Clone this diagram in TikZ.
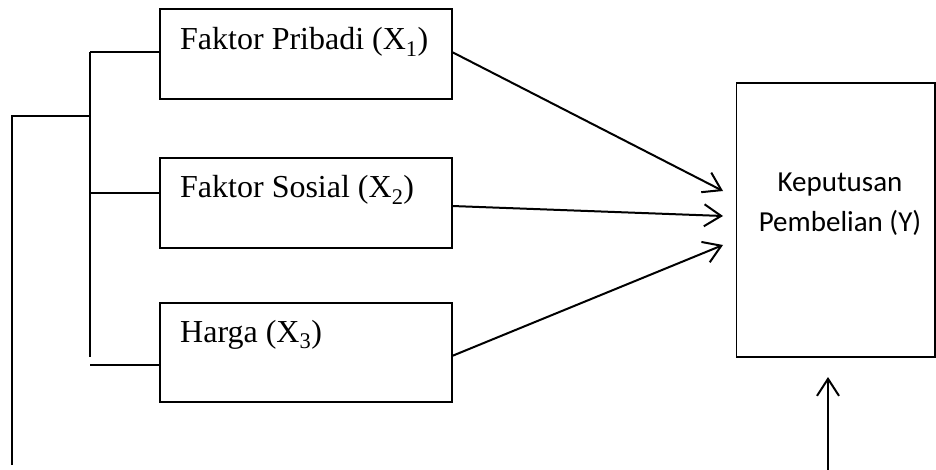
\documentclass[tikz,border=0pt]{standalone}
\usepackage{fontspec}
\setmainfont{Liberation Serif}
\newfontfamily\calfont{Carlito}
\usetikzlibrary{arrows.meta}
\begin{document}
\begin{tikzpicture}[x=1pt,y=-1pt,
  box/.style={draw,line width=1.3pt,inner sep=0pt,minimum width=292pt},
  lab/.style={anchor=base west,inner sep=0pt,font=\fontsize{32}{38}\selectfont},
  conn/.style={line width=2pt},
  arr/.style={line width=2pt,-{Straight Barb[length=17pt,width=22pt,line width=2pt]}}]
\useasboundingbox (0,0) rectangle (936,470);
\node[box,minimum height=90pt] (b1) at (306,54) {};
\node[box,minimum height=90pt] (b2) at (306,203) {};
\node[box,minimum height=99pt] (b3) at (306,352.5) {};
\node[draw,line width=1.3pt,inner sep=0pt,minimum width=198.5pt,minimum height=274pt] (y) at (835.6,220) {};
\node[lab] (l1) at (180,50) {Faktor Pribadi (X\textsubscript{1})};
\node[lab] (l2) at (180,198) {Faktor Sosial (X\textsubscript{2})};
\node[lab] (l3) at (180,342) {Harga (X\textsubscript{3})};
\node[align=center,inner sep=0pt,font=\calfont\fontsize{29}{40}\selectfont] (ly) at (840,204) {Keputusan\\Pembelian (Y)};
% bracket
\coordinate (v1) at (90,52);
\coordinate (v2) at (90,357);
\coordinate (h2) at (90,193);
\coordinate (h3) at (90,365);
\coordinate (f1) at (12,465);
\coordinate (f2) at (12,116);
\coordinate (f3) at (90,116);
\draw[conn] (v1) -- (v2);
\draw[conn] (v1) -- (v1 -| b1.west);
\draw[conn] (h2) -- (h2 -| b2.west);
\draw[conn] (h3) -- (h3 -| b3.west);
\draw[conn] (f1) -- (f2) -- (f3);
% arrows
\coordinate (s1) at (452,52);
\coordinate (s2) at (452,206);
\coordinate (s3) at (452,356);
\coordinate (t1) at (723,191);
\coordinate (t2) at (723,216);
\coordinate (t3) at (723,245);
\draw[arr] (s1) -- (t1);
\draw[arr] (s2) -- (t2);
\draw[arr] (s3) -- (t3);
\coordinate (u0) at (828,470);
\coordinate (u1) at (828,377);
\draw[arr] (u0) -- (u1);
\end{tikzpicture}
\end{document}
